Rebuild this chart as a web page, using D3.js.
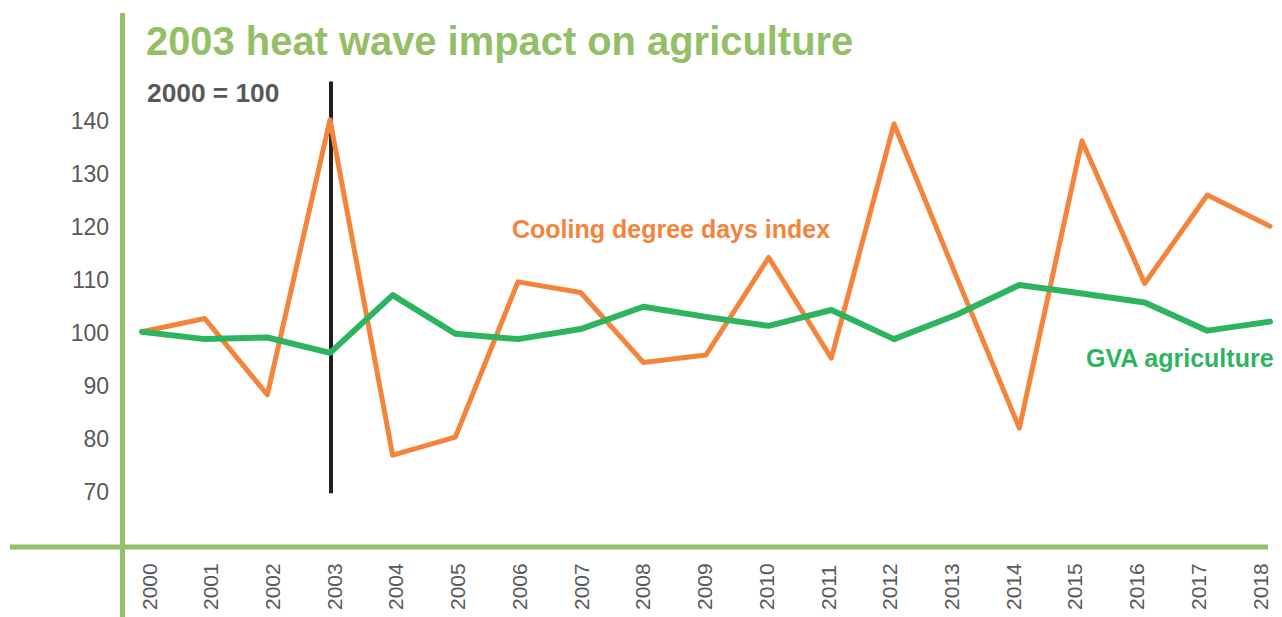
<!DOCTYPE html>
<html>
<head>
<meta charset="utf-8">
<script src="https://cdn.jsdelivr.net/npm/d3@7"></script>
<style>
  html, body { margin: 0; padding: 0; background: #fff; }
  svg { display: block; font-family: "Liberation Sans", Arial, sans-serif; }
</style>
</head>
<body>
<svg id="chart" width="1282" height="617"></svg>
<script>
// Index values, 2000 = 100
const years = [2000, 2001, 2002, 2003, 2004, 2005, 2006, 2007, 2008, 2009,
               2010, 2011, 2012, 2013, 2014, 2015, 2016, 2017, 2018];
const coolingDegreeDays = [100, 102.5, 88.1, 140, 76.7, 80.1, 109.4, 107.4, 94.2, 95.6,
                           114.0, 95.0, 139.2, 110.3, 81.8, 136.0, 109.1, 125.8, 119.9];
const gvaAgriculture = [100, 98.6, 98.9, 96.0, 106.9, 99.6, 98.6, 100.5, 104.7, 102.8,
                        101.1, 104.1, 98.6, 103.2, 108.8, 107.2, 105.5, 100.2, 101.9];
const yTicks = [70, 80, 90, 100, 110, 120, 130, 140];
const heatWaveYear = 2003;
const markerSpan = [69.5, 147.2];

const title = "2003 heat wave impact on agriculture";
const baseNote = "2000 = 100";
const seriesNames = { cdd: "Cooling degree days index", gva: "GVA agriculture" };

const colors = {
  frame: "#93c066",
  cdd: "#f4843b",
  gva: "#2db45f",
  marker: "#231f20",
  note: "#58595b",
  tick: "#58595b"
};

const svg = d3.select("#chart");

const x = d3.scaleLinear().domain([2000, 2018]).range([142, 1270]);
const xLabel = d3.scaleLinear().domain([2000, 2018]).range([149, 1260]);
const y = d3.scaleLinear().domain([70, 140]).range([490.7, 119.7]);

// frame lines (vertical and horizontal)
svg.append("line")
  .attr("x1", 122.5).attr("x2", 122.5)
  .attr("y1", 13).attr("y2", 617)
  .attr("stroke", colors.frame).attr("stroke-width", 5);
svg.append("line")
  .attr("x1", 10).attr("x2", 1268)
  .attr("y1", 547).attr("y2", 547)
  .attr("stroke", colors.frame).attr("stroke-width", 5);

// title
svg.append("text")
  .attr("x", 146).attr("y", 55)
  .attr("font-size", 39.9).attr("font-weight", "bold")
  .attr("fill", colors.frame)
  .text(title);

// base-year note
svg.append("text")
  .attr("x", 147).attr("y", 102)
  .attr("font-size", 26.3).attr("font-weight", "bold")
  .attr("fill", colors.note)
  .text(baseNote);

// y tick labels
svg.append("g")
  .selectAll("text")
  .data(yTicks)
  .join("text")
  .attr("x", 109)
  .attr("y", d => y(d) + 1.5)
  .attr("dy", "0.35em")
  .attr("text-anchor", "end")
  .attr("font-size", 23)
  .attr("fill", colors.tick)
  .text(d => d);

// x tick labels, rotated
svg.append("g")
  .selectAll("text")
  .data(years)
  .join("text")
  .attr("transform", d => `translate(${xLabel(d)},610) rotate(-90)`)
  .attr("dy", "0.36em")
  .attr("text-anchor", "start")
  .attr("font-size", 21)
  .attr("fill", colors.tick)
  .text(d => d);

// heat wave marker
svg.append("line")
  .attr("x1", x(heatWaveYear) + 1).attr("x2", x(heatWaveYear) + 1)
  .attr("y1", y(markerSpan[0])).attr("y2", y(markerSpan[1]))
  .attr("stroke", colors.marker).attr("stroke-width", 4);

const line = d3.line()
  .x((d, i) => x(years[i]))
  .y(d => y(d));

svg.append("path")
  .datum(coolingDegreeDays)
  .attr("d", line)
  .attr("fill", "none")
  .attr("stroke", colors.cdd)
  .attr("stroke-width", 5)
  .attr("stroke-linejoin", "round")
  .attr("stroke-linecap", "round");

svg.append("path")
  .datum(gvaAgriculture)
  .attr("d", line)
  .attr("fill", "none")
  .attr("stroke", colors.gva)
  .attr("stroke-width", 6)
  .attr("stroke-linejoin", "round")
  .attr("stroke-linecap", "round");

// series labels
svg.append("text")
  .attr("x", 512).attr("y", 238)
  .attr("font-size", 25).attr("font-weight", "bold")
  .attr("fill", colors.cdd)
  .text(seriesNames.cdd);

svg.append("text")
  .attr("x", 1086).attr("y", 367)
  .attr("font-size", 25).attr("font-weight", "bold")
  .attr("fill", colors.gva)
  .text(seriesNames.gva);
</script>
</body>
</html>
